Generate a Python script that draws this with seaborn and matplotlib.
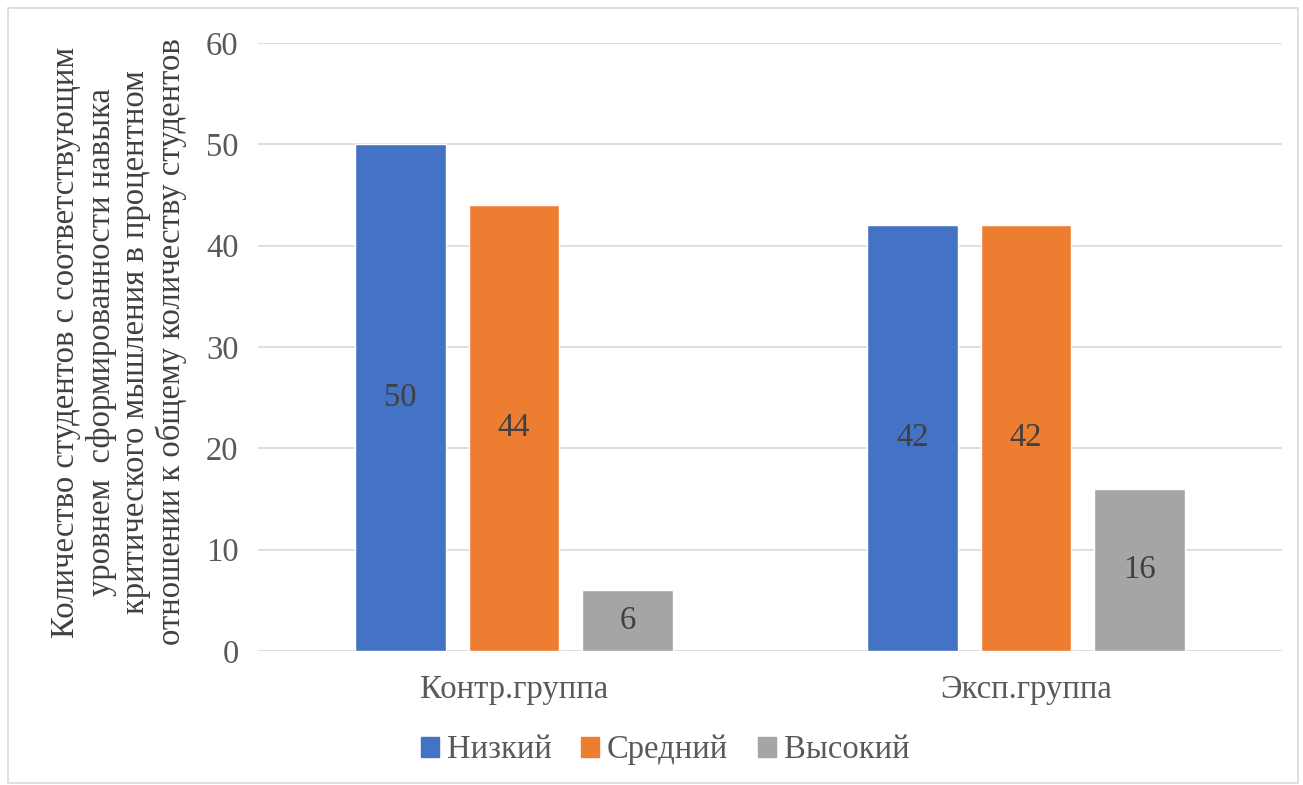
import pandas as pd
import seaborn as sns
from matplotlib import pyplot as plt
from matplotlib.patches import Rectangle

groups = ['Контр.группа', 'Эксп.группа']
levels = ['Низкий', 'Средний', 'Высокий']
low = [50, 42]
mid = [44, 42]
high = [6, 16]
colors = ['#4472C4', '#ED7D31', '#A5A5A5']

df = pd.DataFrame({
    'группа': groups * 3,
    'уровень': [levels[0]] * 2 + [levels[1]] * 2 + [levels[2]] * 2,
    'значение': low + mid + high,
})

sns.set_theme(style='white')
plt.rcParams['font.family'] = ['Liberation Serif', 'DejaVu Serif']

fig = plt.figure(figsize=(13.03, 7.85), dpi=100)
ax = fig.add_axes([258 / 1303, 1 - 651 / 785, 1024 / 1303, 608 / 785])

sns.barplot(data=df, x='группа', y='значение', hue='уровень', hue_order=levels,
            palette=colors, width=0.665, gap=0.2, saturation=1, ax=ax, legend=False)

# подписи значений в середине столбиков
for cont in ax.containers:
    ax.bar_label(cont, label_type='center', fontsize=23.5, color='#404040')

ax.set_ylim(0, 60)
ax.set_yticks(range(0, 61, 10))
ax.set_xlim(-0.5, 1.5)
ax.yaxis.grid(True, color='#d9d9d9', linewidth=1.2)
ax.set_axisbelow(True)
for s in ax.spines.values():
    s.set_visible(False)
ax.tick_params(axis='both', length=0, labelsize=23.5, labelcolor='#595959')
ax.tick_params(axis='y', pad=14)
ax.tick_params(axis='x', pad=17)
ax.set_xlabel('')
ax.set_ylabel('')

ylab = ('Количество студентов с соответствующим\n'
        'уровнем  сформированности навыка\n'
        'критического мышления в процентном\n'
        'отношении к общему количеству студентов')
fig.text(119 / 1303, 1 - 342 / 785, ylab, rotation=90, ha='center', va='center',
         fontsize=23.5, color='#404040', linespacing=1.18)

handles = [Rectangle((0, 0), 1, 1, color=c) for c in colors]
fig.legend(handles, levels, loc='center', bbox_to_anchor=(665 / 1303, 1 - 750 / 785),
           ncol=3, frameon=False, fontsize=23.5, labelcolor='#595959',
           handlelength=0.55, handleheight=0.55, handletextpad=0.25, columnspacing=0.9)

fig.patches.append(Rectangle((8 / 1303, 0.002), 1290 / 1303, 1 - 8 / 785 - 0.002,
                             transform=fig.transFigure, fill=False,
                             edgecolor='#d9d9d9', linewidth=1.2))

plt.savefig('out.png', dpi=100)
